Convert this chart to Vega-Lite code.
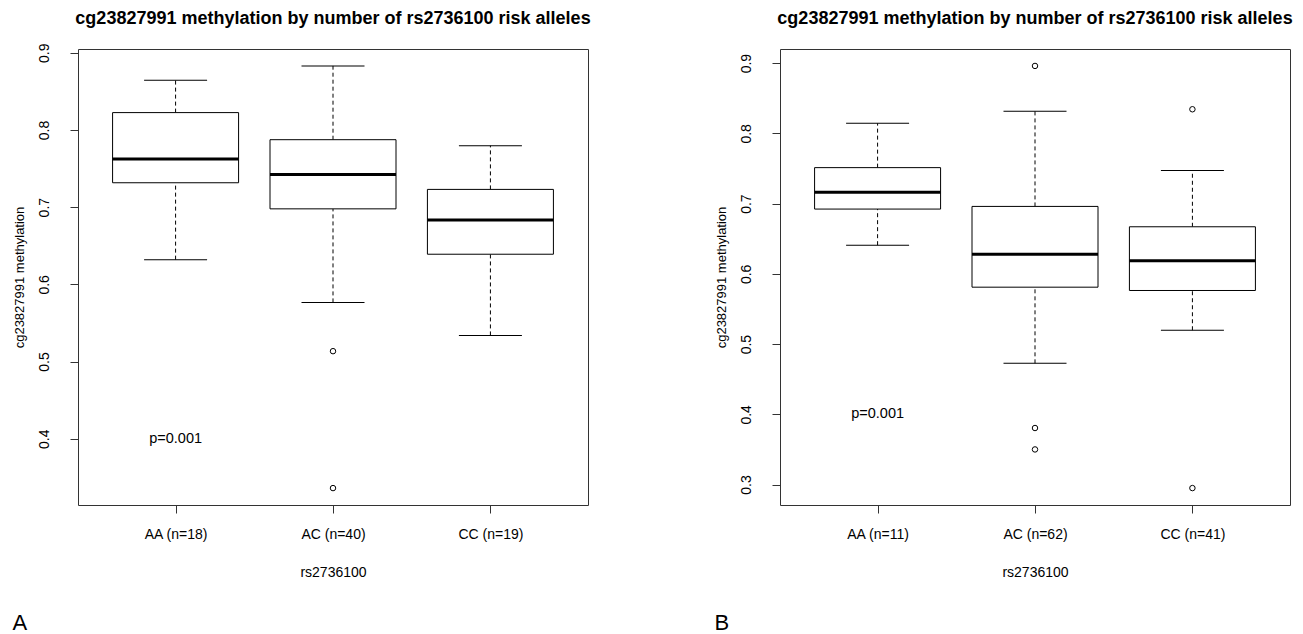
{
  "$schema": "https://vega.github.io/schema/vega-lite/v6.json",
  "background": "white",
  "padding": {"left": 12, "top": 9, "right": 5, "bottom": 2},
  "config": {
    "font": "Liberation Sans",
    "view": {"stroke": "#333", "strokeWidth": 1},
    "axis": {"grid": false, "domain": false, "tickColor": "#333", "tickSize": 8, "labelColor": "#000", "titleColor": "#000", "labelFontSize": 14, "titleFontSize": 14, "titleFontWeight": "normal", "labelFont": "Liberation Sans", "titleFont": "Liberation Sans"},
    "title": {"font": "Liberation Sans", "color": "#000"}
  },
  "datasets": {
    "A_box": [
      {"group": "AA (n=18)", "lower": 0.632, "q1": 0.7316, "median": 0.7623, "q3": 0.8225, "upper": 0.8645},
      {"group": "AC (n=40)", "lower": 0.5766, "q1": 0.6978, "median": 0.7424, "q3": 0.7874, "upper": 0.883},
      {"group": "CC (n=19)", "lower": 0.5338, "q1": 0.639, "median": 0.6835, "q3": 0.723, "upper": 0.7797}
    ],
    "A_out": [
      {"group": "AC (n=40)", "value": 0.5134},
      {"group": "AC (n=40)", "value": 0.336}
    ],
    "A_txt": [{"group": "AA (n=18)", "value": 0.4, "label": "p=0.001"}],
    "B_box": [
      {"group": "AA (n=11)", "lower": 0.6408, "q1": 0.6922, "median": 0.716, "q3": 0.7512, "upper": 0.8143},
      {"group": "AC (n=62)", "lower": 0.4726, "q1": 0.581, "median": 0.628, "q3": 0.696, "upper": 0.8314},
      {"group": "CC (n=41)", "lower": 0.5197, "q1": 0.5763, "median": 0.6186, "q3": 0.667, "upper": 0.7473}
    ],
    "B_out": [
      {"group": "AC (n=62)", "value": 0.896},
      {"group": "AC (n=62)", "value": 0.3805},
      {"group": "AC (n=62)", "value": 0.35},
      {"group": "CC (n=41)", "value": 0.8343},
      {"group": "CC (n=41)", "value": 0.295}
    ],
    "B_txt": [{"group": "AA (n=11)", "value": 0.4, "label": "p=0.001"}]
  },
  "spacing": 122,
  "hconcat": [
    {
      "title": {"text": "A", "orient": "bottom", "anchor": "start", "frame": "bounds", "fontSize": 22, "fontWeight": "normal", "offset": 33},
      "vconcat": [
        {
          "title": {"text": "cg23827991 methylation by number of rs2736100 risk alleles", "fontSize": 18, "fontWeight": "bold", "offset": 15},
          "width": 510,
          "height": 456,
          "encoding": {
            "x": {"field": "group", "type": "ordinal", "scale": {"type": "point", "padding": 0.62, "domain": ["AA (n=18)", "AC (n=40)", "CC (n=19)"]},
              "axis": {"labelAngle": 0, "labelPadding": 14, "title": "rs2736100", "titleY": 60, "titleBaseline": "top"}}
          },
          "layer": [
            {"data": {"name": "A_box"}, "mark": {"type": "rule", "color": "black", "strokeDash": [4, 3], "strokeWidth": 1},
              "encoding": {"y": {"field": "lower", "type": "quantitative", "scale": {"domain": [0.3141, 0.9049], "nice": false, "zero": false},
                "axis": {"values": [0.4, 0.5, 0.6, 0.7, 0.8, 0.9], "format": ".1f", "labelAngle": -90, "labelAlign": "center", "labelBaseline": "bottom", "labelPadding": 19, "labelOverlap": false,
                  "title": "cg23827991 methylation", "titleFontSize": 13, "titleX": -52, "titleY": 228, "titleAngle": -90, "titleBaseline": "bottom", "titleAlign": "center"}},
                "y2": {"field": "q1"}}},
            {"data": {"name": "A_box"}, "mark": {"type": "rule", "color": "black", "strokeDash": [4, 3], "strokeWidth": 1},
              "encoding": {"y": {"field": "q3", "type": "quantitative"}, "y2": {"field": "upper"}}},
            {"data": {"name": "A_box"}, "mark": {"type": "tick", "orient": "horizontal", "color": "black", "size": 63, "thickness": 1, "opacity": 1},
              "encoding": {"y": {"field": "lower", "type": "quantitative"}}},
            {"data": {"name": "A_box"}, "mark": {"type": "tick", "orient": "horizontal", "color": "black", "size": 63, "thickness": 1, "opacity": 1},
              "encoding": {"y": {"field": "upper", "type": "quantitative"}}},
            {"data": {"name": "A_box"}, "mark": {"type": "bar", "size": 126, "fill": "white", "stroke": "black", "strokeWidth": 1, "opacity": 1},
              "encoding": {"y": {"field": "q1", "type": "quantitative"}, "y2": {"field": "q3"}}},
            {"data": {"name": "A_box"}, "mark": {"type": "tick", "orient": "horizontal", "color": "black", "size": 126, "thickness": 3, "opacity": 1},
              "encoding": {"y": {"field": "median", "type": "quantitative"}}},
            {"data": {"name": "A_out"}, "mark": {"type": "point", "shape": "circle", "filled": false, "color": "black", "size": 30, "strokeWidth": 1, "opacity": 1},
              "encoding": {"y": {"field": "value", "type": "quantitative"}}},
            {"data": {"name": "A_txt"}, "mark": {"type": "text", "fontSize": 14.5, "color": "black", "align": "center", "baseline": "middle"},
              "encoding": {"y": {"field": "value", "type": "quantitative"}, "text": {"field": "label"}}}
          ]
        }
      ]
    },
    {
      "title": {"text": "B", "orient": "bottom", "anchor": "start", "frame": "bounds", "fontSize": 22, "fontWeight": "normal", "offset": 33},
      "vconcat": [
        {
          "title": {"text": "cg23827991 methylation by number of rs2736100 risk alleles", "fontSize": 18, "fontWeight": "bold", "offset": 15},
          "width": 510,
          "height": 456,
          "encoding": {
            "x": {"field": "group", "type": "ordinal", "scale": {"type": "point", "padding": 0.62, "domain": ["AA (n=11)", "AC (n=62)", "CC (n=41)"]},
              "axis": {"labelAngle": 0, "labelPadding": 14, "title": "rs2736100", "titleY": 60, "titleBaseline": "top"}}
          },
          "layer": [
            {"data": {"name": "B_box"}, "mark": {"type": "rule", "color": "black", "strokeDash": [4, 3], "strokeWidth": 1},
              "encoding": {"y": {"field": "lower", "type": "quantitative", "scale": {"domain": [0.2709, 0.9201], "nice": false, "zero": false},
                "axis": {"values": [0.3, 0.4, 0.5, 0.6, 0.7, 0.8, 0.9, 0.9148], "format": ".1f", "labelAngle": -90, "labelAlign": "center", "labelBaseline": "bottom", "labelPadding": 19, "labelOverlap": false,
                  "labelOpacity": {"condition": {"test": "datum.value > 0.91", "value": 0}, "value": 1},
                  "tickOpacity": {"condition": {"test": "datum.value > 0.91", "value": 0}, "value": 1},
                  "title": "cg23827991 methylation", "titleFontSize": 13, "titleX": -52, "titleY": 228, "titleAngle": -90, "titleBaseline": "bottom", "titleAlign": "center"}},
                "y2": {"field": "q1"}}},
            {"data": {"name": "B_box"}, "mark": {"type": "rule", "color": "black", "strokeDash": [4, 3], "strokeWidth": 1},
              "encoding": {"y": {"field": "q3", "type": "quantitative"}, "y2": {"field": "upper"}}},
            {"data": {"name": "B_box"}, "mark": {"type": "tick", "orient": "horizontal", "color": "black", "size": 63, "thickness": 1, "opacity": 1},
              "encoding": {"y": {"field": "lower", "type": "quantitative"}}},
            {"data": {"name": "B_box"}, "mark": {"type": "tick", "orient": "horizontal", "color": "black", "size": 63, "thickness": 1, "opacity": 1},
              "encoding": {"y": {"field": "upper", "type": "quantitative"}}},
            {"data": {"name": "B_box"}, "mark": {"type": "bar", "size": 126, "fill": "white", "stroke": "black", "strokeWidth": 1, "opacity": 1},
              "encoding": {"y": {"field": "q1", "type": "quantitative"}, "y2": {"field": "q3"}}},
            {"data": {"name": "B_box"}, "mark": {"type": "tick", "orient": "horizontal", "color": "black", "size": 126, "thickness": 3, "opacity": 1},
              "encoding": {"y": {"field": "median", "type": "quantitative"}}},
            {"data": {"name": "B_out"}, "mark": {"type": "point", "shape": "circle", "filled": false, "color": "black", "size": 30, "strokeWidth": 1, "opacity": 1},
              "encoding": {"y": {"field": "value", "type": "quantitative"}}},
            {"data": {"name": "B_txt"}, "mark": {"type": "text", "fontSize": 14.5, "color": "black", "align": "center", "baseline": "middle"},
              "encoding": {"y": {"field": "value", "type": "quantitative"}, "text": {"field": "label"}}}
          ]
        }
      ]
    }
  ]
}
